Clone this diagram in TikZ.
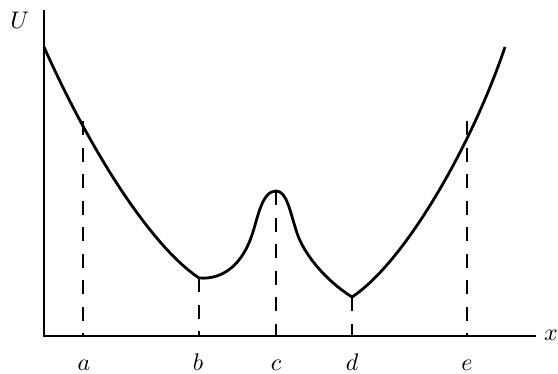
\documentclass[tikz,border=0pt]{standalone}
\usepackage{graphicx}
\newcommand{\biglabel}[1]{\scalebox{2.4}{$#1$}}
\begin{document}
\begin{tikzpicture}[x=1pt,y=-1pt,
  axisline/.style={line width=2.4pt},
  curveline/.style={line width=2.8pt,line join=round},
  guide/.style={line width=2.8pt,dash pattern=on 14pt off 12.5pt},
  lbl/.style={inner sep=0pt}]
\useasboundingbox (0,0) rectangle (558,373);
% axes
\coordinate (O) at (44,336);
\coordinate (Ytop) at (44,10);
\coordinate (Xend) at (536,336);
\draw[axisline] (Ytop) -- (O) -- (Xend);
% curve points
\coordinate (P0) at (44,47);
\coordinate (Pb) at (199,278);
\coordinate (Pm) at (252,235);
\coordinate (Pc) at (276,191);
\coordinate (Pn) at (297,233);
\coordinate (Pd) at (352,297);
\coordinate (P5) at (505,47);
\draw[curveline] (P0) .. controls (90,150) and (150,245) .. (Pb)
  .. controls (225,280) and (243,262) .. (Pm)
  .. controls (258,217) and (262,191) .. (Pc)
  .. controls (287,191) and (290,212) .. (Pn)
  .. controls (304,254) and (325,280) .. (Pd)
  .. controls (405,262) and (472,145) .. (P5);
% guide tops and feet
\coordinate (Ta) at (83,121);  \coordinate (Fa) at (83,336);
\coordinate (Tb) at (199,278); \coordinate (Fb) at (199,336);
\coordinate (Tc) at (276,191); \coordinate (Fc) at (276,336);
\coordinate (Td) at (352,297); \coordinate (Fd) at (352,336);
\coordinate (Te) at (467,121); \coordinate (Fe) at (467,336);
\draw[guide] (Ta) -- (Fa);
\draw[guide] (Tb) -- (Fb);
\draw[guide] (Tc) -- (Fc);
\draw[guide] (Td) -- (Fd);
\draw[guide] (Te) -- (Fe);
% labels
\node[lbl,anchor=base] (La) at (84,370) {\biglabel{a}};
\node[lbl,anchor=base] (Lb) at (198,370) {\biglabel{b}};
\node[lbl,anchor=base] (Lc) at (276,370) {\biglabel{c}};
\node[lbl,anchor=base] (Ld) at (352,370) {\biglabel{d}};
\node[lbl,anchor=base] (Le) at (467,370) {\biglabel{e}};
\node[lbl,anchor=base] (LU) at (20,28) {\biglabel{U}};
\node[lbl,anchor=base west] (Lx) at (544,340) {\biglabel{x}};
\end{tikzpicture}
\end{document}
